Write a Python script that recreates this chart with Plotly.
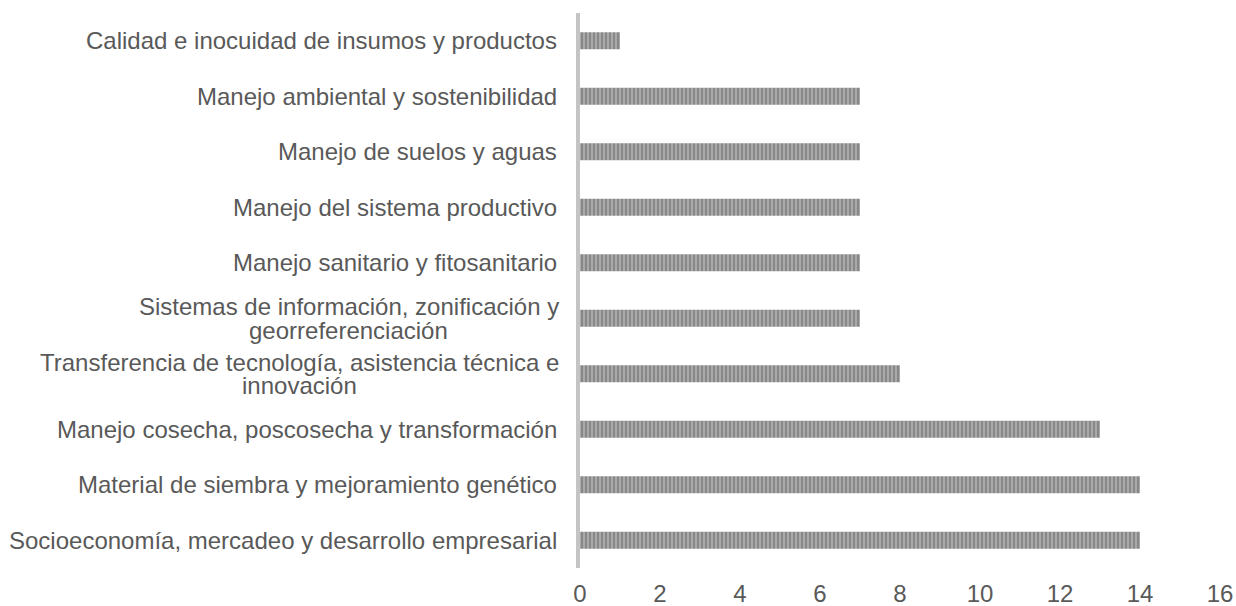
import plotly.graph_objects as go

categories = [
    "Socioeconomía, mercadeo y desarrollo empresarial",
    "Material de siembra y mejoramiento genético",
    "Manejo cosecha, poscosecha y transformación",
    "Transferencia de tecnología, asistencia técnica e<br>innovación",
    "Sistemas de información, zonificación y<br>georreferenciación",
    "Manejo sanitario y fitosanitario",
    "Manejo del sistema productivo",
    "Manejo de suelos y aguas",
    "Manejo ambiental y sostenibilidad",
    "Calidad e inocuidad de insumos y productos",
]
values = [14, 14, 13, 8, 7, 7, 7, 7, 7, 1]
x_ticks = [0, 2, 4, 6, 8, 10, 12, 14, 16]

FONT = "Liberation Sans, Arial, sans-serif"
TXT = "#595959"
FS = 24
LINE_H = 23.5
GAP = 21

# Arial / Liberation Sans advance widths (per 1000 em) to centre wrapped lines
_W = {" ": 278, ",": 278, "S": 667, "T": 611, "M": 833, "C": 722, "i": 222, "í": 222,
      "j": 222, "l": 222, "f": 278, "t": 278, "r": 333, "m": 833, "w": 722, "c": 500,
      "k": 500, "s": 500, "v": 500, "x": 500, "y": 500, "z": 500}


def text_width(s, size):
    return sum(_W.get(ch, 556) for ch in s) * size / 1000.0


fig = go.Figure(go.Bar(
    x=values, y=categories, orientation="h",
    marker=dict(
        color="#a9a9a9",
        line=dict(width=0),
        pattern=dict(shape="|", fgcolor="#686868", bgcolor="#a9a9a9", size=4, solidity=0.5),
    ),
    width=0.31,
    hoverinfo="x+y",
))

# category labels (Excel style: block right-aligned, wrapped lines centred, tight spacing)
for c in categories:
    lines = c.split("<br>")
    n = len(lines)
    block_w = max(text_width(ln, FS) for ln in lines)
    for i, ln in enumerate(lines):
        yshift = ((n - 1) / 2 - i) * LINE_H
        if n == 1:
            fig.add_annotation(
                x=0, y=c, xref="x", yref="y", text=ln, showarrow=False,
                xanchor="right", yanchor="middle", xshift=-GAP, yshift=yshift,
                font=dict(family=FONT, size=FS, color=TXT),
            )
        else:
            fig.add_annotation(
                x=0, y=c, xref="x", yref="y", text=ln, showarrow=False,
                xanchor="center", yanchor="middle",
                xshift=-GAP - block_w / 2, yshift=yshift,
                font=dict(family=FONT, size=FS, color=TXT),
            )

fig.update_layout(
    width=1236, height=606,
    margin=dict(l=580, r=15.5, t=13, b=38, autoexpand=False),
    paper_bgcolor="white", plot_bgcolor="white",
    showlegend=False,
    font=dict(family=FONT, size=FS, color=TXT),
    xaxis=dict(range=[0, 16], tickvals=x_ticks, showgrid=False, zeroline=False,
               showline=False, ticks="", ticklabelstandoff=9, automargin=False,
               tickfont=dict(size=FS, color=TXT)),
    yaxis=dict(showticklabels=False, showgrid=False, zeroline=False, showline=True,
               automargin=False,
               linecolor="#c4c4c4", linewidth=4, ticks="", range=[-0.5, 9.5]),
)

fig.write_html(
    "out.html",
    config={"displayModeBar": False},
    post_script="document.body.style.margin='0';document.body.style.overflow='hidden';",
)
